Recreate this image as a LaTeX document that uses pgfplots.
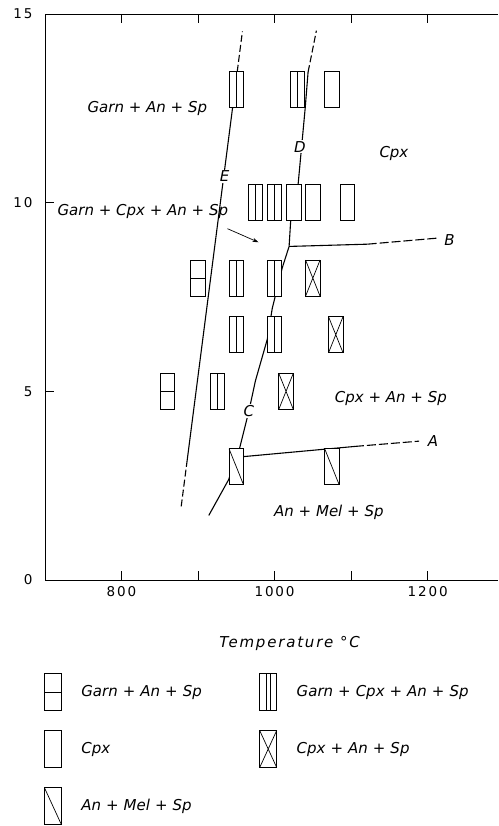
\documentclass[border=0pt]{standalone}
\usepackage{pgfplots}
\pgfplotsset{compat=1.18}
\usepackage{fontspec}
\setmainfont{DejaVu Sans}
\newfontfamily\xlabf{DejaVu Sans}[LetterSpace=12]
\newfontfamily\tickf{DejaVu Sans}[LetterSpace=14]
\usetikzlibrary{arrows.meta}

\pgfdeclareplotmark{boxE}{%
  \pgfpathrectangle{\pgfpoint{-7.25pt}{-18pt}}{\pgfpoint{14.5pt}{36pt}}\pgfusepathqfillstroke}
\pgfdeclareplotmark{boxH}{%
  \pgfpathrectangle{\pgfpoint{-7.25pt}{-18pt}}{\pgfpoint{14.5pt}{36pt}}\pgfusepathqfillstroke
  \pgfpathmoveto{\pgfpoint{-7.25pt}{0pt}}\pgfpathlineto{\pgfpoint{7.25pt}{0pt}}\pgfusepathqstroke}
\pgfdeclareplotmark{boxV}{%
  \pgfpathrectangle{\pgfpoint{-7.25pt}{-18pt}}{\pgfpoint{14.5pt}{36pt}}\pgfusepathqfillstroke
  \pgfpathmoveto{\pgfpoint{0pt}{-18pt}}\pgfpathlineto{\pgfpoint{0pt}{18pt}}\pgfusepathqstroke}
\pgfdeclareplotmark{boxX}{%
  \pgfpathrectangle{\pgfpoint{-7.25pt}{-18pt}}{\pgfpoint{14.5pt}{36pt}}\pgfusepathqfillstroke
  \pgfpathmoveto{\pgfpoint{-7.25pt}{-18pt}}\pgfpathlineto{\pgfpoint{7.25pt}{18pt}}
  \pgfpathmoveto{\pgfpoint{-7.25pt}{18pt}}\pgfpathlineto{\pgfpoint{7.25pt}{-18pt}}\pgfusepathqstroke}
\pgfdeclareplotmark{boxD}{%
  \pgfpathrectangle{\pgfpoint{-7.25pt}{-18pt}}{\pgfpoint{14.5pt}{36pt}}\pgfusepathqfillstroke
  \pgfpathmoveto{\pgfpoint{-7.25pt}{18pt}}\pgfpathlineto{\pgfpoint{7.25pt}{-18pt}}\pgfusepathqstroke}

\newcommand{\labfont}{\fontsize{15}{17}\selectfont\itshape}

\begin{document}
\begin{tikzpicture}
\begin{axis}[
  scale only axis, width=453pt, height=566pt,
  xmin=700, xmax=1292, ymin=0, ymax=15,
  axis x line*=box, axis y line*=left,
  xtick={800,1000,1200}, minor xtick={900,1100},
  ytick={0,5,10,15},
  tick align=inside, major tick length=9pt, minor tick length=9pt,
  every tick/.style={black, line width=0.8pt},
  axis line style={line width=0.9pt},
  /pgf/number format/assume math mode=true,
  /pgf/number format/1000 sep={},
  ticklabel style={font=\tickf\fontsize{13.5}{15}\selectfont},
  xticklabel style={yshift=-3pt},
  yticklabel style={xshift=-9pt},
  xlabel={Temperature °C},
  xlabel style={font=\xlabf\fontsize{15}{17}\selectfont\itshape, at={(axis description cs:0.54,0)}, anchor=center, yshift=-63pt},
  clip=false,
  legend columns=2, legend cell align=left,
  legend style={draw=none, fill=none, inner sep=0pt, outer sep=0pt,
    at={(0,0)}, anchor=north west, xshift=-1pt, yshift=-83.5pt,
    column sep=0pt, row sep=0pt,
    nodes={inner sep=0pt, text width=178pt, align=left, font=\labfont}},
]
\coordinate (O) at (axis cs:700,0);

% legend images
\addlegendimage{legend image code/.code={%
  \path[draw=none,fill=none] (0pt,-28.5pt) rectangle (37pt,28.5pt);
  \draw[line width=0.7pt] (0pt,-18.5pt) rectangle (17pt,18.5pt);
  \draw[line width=0.7pt] (0pt,0pt) -- (17pt,0pt);}}
\addlegendentry{Garn + An + Sp}
\addlegendimage{legend image code/.code={%
  \path[draw=none,fill=none] (0pt,-28.5pt) rectangle (37pt,28.5pt);
  \draw[line width=0.7pt] (0pt,-18.5pt) rectangle (17pt,18.5pt);
  \draw[line width=0.7pt] (6.5pt,-18.5pt) -- (6.5pt,18.5pt) (10.5pt,-18.5pt) -- (10.5pt,18.5pt);}}
\addlegendentry{Garn + Cpx + An + Sp}
\addlegendimage{legend image code/.code={%
  \path[draw=none,fill=none] (0pt,-28.5pt) rectangle (37pt,28.5pt);
  \draw[line width=0.7pt] (0pt,-18.5pt) rectangle (17pt,18.5pt);}}
\addlegendentry{Cpx}
\addlegendimage{legend image code/.code={%
  \path[draw=none,fill=none] (0pt,-28.5pt) rectangle (37pt,28.5pt);
  \draw[line width=0.7pt] (0pt,-18.5pt) rectangle (17pt,18.5pt);
  \draw[line width=0.7pt] (0pt,-18.5pt) -- (17pt,18.5pt) (0pt,18.5pt) -- (17pt,-18.5pt);}}
\addlegendentry{Cpx + An + Sp}
\addlegendimage{legend image code/.code={%
  \path[draw=none,fill=none] (0pt,-28.5pt) rectangle (37pt,28.5pt);
  \draw[line width=0.7pt] (0pt,-18.5pt) rectangle (17pt,18.5pt);
  \draw[line width=0.7pt] (0pt,18.5pt) -- (17pt,-18.5pt);}}
\addlegendentry{An + Mel + Sp}

% phase boundary E
\addplot[forget plot, black, line width=1.1pt, dash pattern=on 7pt off 3pt] coordinates {(878,1.95) (884.7,3.0)};
\addplot[forget plot, black, line width=1.1pt] coordinates {(884.7,3.0) (951.2,13.47)};
\addplot[forget plot, black, line width=1.1pt, dash pattern=on 7pt off 3pt] coordinates {(951.2,13.47) (958,14.54)};
% phase boundary C-D
\addplot[forget plot, black, line width=1.1pt] coordinates {(914,1.71) (940,2.66) (954,3.47) (966.5,4.48) (975,5.28) (990.5,6.38) (997,7.2) (1010,8.27) (1019,8.84) (1021,9.5) (1030.7,10.47) (1040,12.5) (1043.8,13.46)};
\addplot[forget plot, black, line width=1.1pt, dash pattern=on 7pt off 3pt] coordinates {(1043.8,13.46) (1054.7,14.56)};
% A
\addplot[forget plot, black, line width=1.1pt] coordinates {(959.5,3.27) (1105,3.54)};
\addplot[forget plot, black, line width=1.1pt, dash pattern=on 9pt off 3pt] coordinates {(1105,3.54) (1189,3.68)};
% B
\addplot[forget plot, black, line width=1.1pt] coordinates {(1019,8.84) (1121.6,8.90)};
\addplot[forget plot, black, line width=1.1pt, dash pattern=on 9pt off 3pt] coordinates {(1121.6,8.90) (1212.5,9.06)};
% arrow
\addplot[forget plot, black, line width=0.7pt, -{Stealth[length=6pt,width=4pt]}] coordinates {(938.5,9.31) (979,8.95)};

% experiments
\addplot[forget plot, only marks, mark=boxE, mark options={fill=white, draw=black, line width=0.7pt}] coordinates {(1075,13) (1025,10) (1050,10) (1095,10)};
\addplot[forget plot, only marks, mark=boxV, mark options={fill=white, draw=black, line width=0.7pt}] coordinates {(950,13) (1030,13) (975,10) (1000,10) (950,8) (1000,8) (950,6.5) (1000,6.5) (925,5)};
\addplot[forget plot, only marks, mark=boxH, mark options={fill=white, draw=black, line width=0.7pt}] coordinates {(900,8) (860,5)};
\addplot[forget plot, only marks, mark=boxX, mark options={fill=white, draw=black, line width=0.7pt}] coordinates {(1050,8) (1080,6.5) (1015,5)};
\addplot[forget plot, only marks, mark=boxD, mark options={fill=white, draw=black, line width=0.7pt}] coordinates {(950,3) (1075,3)};

% labels
\node[font=\labfont] at (axis cs:833.7,12.5) {Garn + An + Sp};
\node[font=\labfont] at (axis cs:827.8,9.76) {Garn + Cpx + An + Sp};
\node[font=\labfont] at (axis cs:1156,11.3) {Cpx};
\node[font=\labfont] at (axis cs:1152,4.8) {Cpx + An + Sp};
\node[font=\labfont] at (axis cs:1071,1.79) {An + Mel + Sp};
\node[font=\labfont, fill=white, inner sep=1pt] at (axis cs:934.6,10.7) {E};
\node[font=\labfont, fill=white, inner sep=1pt] at (axis cs:1033,11.48) {D};
\node[font=\labfont, fill=white, inner sep=1pt] at (axis cs:966.5,4.48) {C};
\node[font=\labfont] at (axis cs:1207,3.68) {A};
\node[font=\labfont] at (axis cs:1228.6,9.02) {B};
\end{axis}
\pgfresetboundingbox
\path (O) ++(-45pt,-246pt) rectangle ++(498pt,826pt);
\end{tikzpicture}
\end{document}
